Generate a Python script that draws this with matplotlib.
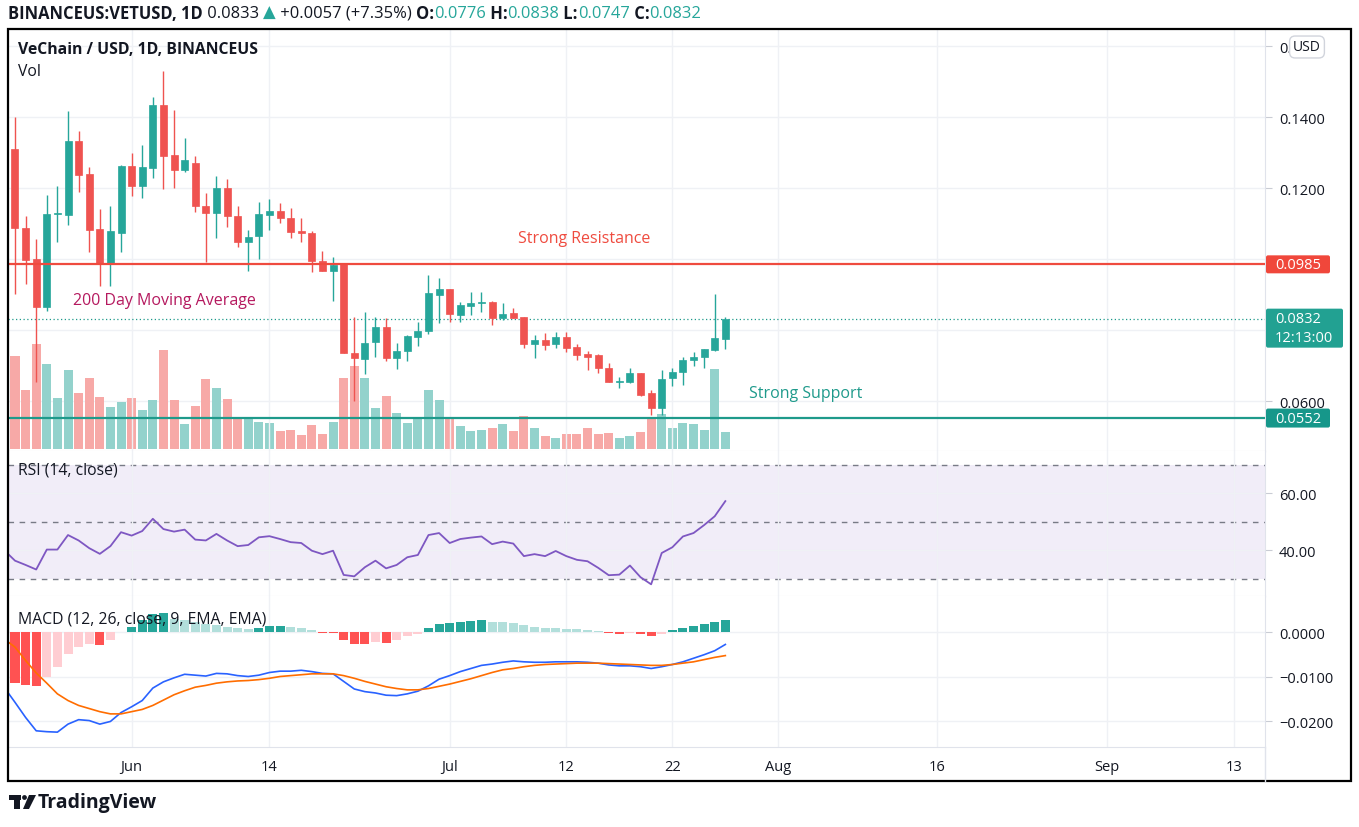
import numpy as np
import pandas as pd
import matplotlib
matplotlib.use('Agg')
import matplotlib.pyplot as plt
from matplotlib.transforms import IdentityTransform, blended_transform_factory
from matplotlib.patches import Rectangle, Circle, Polygon, FancyBboxPatch
from matplotlib.ticker import FuncFormatter

plt.rcParams['font.family'] = ['Open Sans', 'DejaVu Sans']

# VET/USD daily candles, Binance US, from 2021-05-21
first_day = '2021-05-21'
opens = [0.1310, 0.1087, 0.1000, 0.0865, 0.1127, 0.1124, 0.1332, 0.1239, 0.1084, 0.0989,
         0.1073, 0.1262, 0.1206, 0.1256, 0.1434, 0.1293, 0.1251, 0.1270, 0.1149, 0.1130,
         0.1200, 0.1121, 0.1048, 0.1065, 0.1124, 0.1135, 0.1115, 0.1079, 0.1073, 0.0994,
         0.0966, 0.0986, 0.0735, 0.0718, 0.0766, 0.0808, 0.0721, 0.0741, 0.0780, 0.0797,
         0.0899, 0.0915, 0.0842, 0.0868, 0.0876, 0.0879, 0.0834, 0.0848, 0.0837, 0.0761,
         0.0772, 0.0761, 0.0780, 0.0752, 0.0733, 0.0730, 0.0693, 0.0654, 0.0654, 0.0679,
         0.0623, 0.0580, 0.0665, 0.0682, 0.0716, 0.0724, 0.0744, 0.0776]
highs = [0.1400, 0.1121, 0.1056, 0.1180, 0.1206, 0.1417, 0.1360, 0.1259, 0.1141, 0.1150,
         0.1265, 0.1299, 0.1321, 0.1456, 0.1530, 0.1420, 0.1341, 0.1290, 0.1186, 0.1235,
         0.1225, 0.1149, 0.1082, 0.1160, 0.1169, 0.1158, 0.1144, 0.1115, 0.1079, 0.1023,
         0.1006, 0.0988, 0.0837, 0.0851, 0.0837, 0.0834, 0.0763, 0.0786, 0.0823, 0.0955,
         0.0946, 0.0915, 0.0879, 0.0907, 0.0907, 0.0882, 0.0876, 0.0862, 0.0837, 0.0786,
         0.0792, 0.0794, 0.0794, 0.0761, 0.0741, 0.0733, 0.0707, 0.0668, 0.0693, 0.0679,
         0.0631, 0.0687, 0.0693, 0.0724, 0.0738, 0.0746, 0.0901, 0.0838]
lows = [0.0901, 0.0930, 0.0654, 0.0853, 0.1048, 0.1096, 0.1189, 0.1020, 0.0924, 0.0924,
        0.1020, 0.1178, 0.1172, 0.1228, 0.1197, 0.1200, 0.1245, 0.1132, 0.0992, 0.1059,
        0.1090, 0.1034, 0.0966, 0.1000, 0.1082, 0.1101, 0.1059, 0.1048, 0.0963, 0.0966,
        0.0882, 0.0735, 0.0600, 0.0676, 0.0724, 0.0713, 0.0690, 0.0713, 0.0755, 0.0789,
        0.0820, 0.0823, 0.0823, 0.0842, 0.0851, 0.0814, 0.0828, 0.0834, 0.0749, 0.0721,
        0.0744, 0.0749, 0.0738, 0.0716, 0.0687, 0.0679, 0.0654, 0.0637, 0.0651, 0.0614,
        0.0561, 0.0561, 0.0642, 0.0645, 0.0699, 0.0693, 0.0741, 0.0747]
closes = [0.1087, 0.0997, 0.0865, 0.1127, 0.1130, 0.1332, 0.1237, 0.1082, 0.0989, 0.1079,
          0.1262, 0.1206, 0.1259, 0.1434, 0.1290, 0.1251, 0.1279, 0.1149, 0.1130, 0.1200,
          0.1121, 0.1048, 0.1062, 0.1127, 0.1135, 0.1115, 0.1076, 0.1073, 0.0994, 0.0966,
          0.0983, 0.0735, 0.0721, 0.0763, 0.0808, 0.0721, 0.0741, 0.0783, 0.0797, 0.0904,
          0.0915, 0.0845, 0.0870, 0.0876, 0.0879, 0.0834, 0.0845, 0.0834, 0.0761, 0.0772,
          0.0758, 0.0780, 0.0749, 0.0730, 0.0724, 0.0693, 0.0654, 0.0656, 0.0679, 0.0617,
          0.0580, 0.0662, 0.0682, 0.0716, 0.0724, 0.0746, 0.0777, 0.0832]
# volume, relative units
volume = [93, 59, 105, 85, 51, 79, 56, 71, 52, 42, 47, 51, 39, 49, 99, 49, 25,
          43, 70, 61, 50, 30, 32, 27, 26, 18, 19, 14, 24, 15, 27, 71, 83, 71,
          41, 53, 36, 26, 32, 59, 49, 32, 23, 18, 19, 21, 25, 18, 33, 21, 13,
          11, 15, 15, 21, 15, 16, 11, 13, 17, 32, 35, 21, 26, 25, 19, 80, 17]

# indicator lines start one day earlier (2021-05-20)
rsi = [40.0, 36.4, 34.9, 33.3, 40.3, 40.3, 45.4, 43.5, 40.8, 38.8, 41.5,
       46.4, 45.2, 46.8, 51.1, 47.5, 46.6, 47.3, 43.8, 43.5, 45.8,
       43.5, 41.5, 41.9, 44.6, 45.0, 44.0, 42.9, 42.6, 39.9, 38.7,
       39.9, 31.4, 30.9, 34.1,
       36.4, 33.7, 34.9, 37.6, 38.4, 45.4, 46.1, 42.6, 44.0, 44.5,
       44.9, 42.2, 43.1, 42.4, 38.0, 38.7, 38.0, 39.8, 38.0, 36.7,
       36.2, 33.9, 31.3, 31.5, 34.7, 30.6, 28.1, 39.1, 41.1, 44.9,
       46.1, 48.9, 52.0, 57.3]
macd = [-0.0125, -0.0158, -0.0192, -0.0222, -0.0224, -0.0225, -0.0207, -0.0197, -0.0199, -0.0207, -0.0201,
        -0.0181, -0.0168, -0.0154, -0.0126, -0.0112, -0.0103, -0.0095, -0.0097, -0.0099, -0.0093,
        -0.0094, -0.0098, -0.0100, -0.0097, -0.0091, -0.0088, -0.0088, -0.0086, -0.0089, -0.0093,
        -0.0094, -0.0111, -0.0128, -0.0134,
        -0.0137, -0.0142, -0.0143, -0.0139, -0.0133, -0.0121, -0.0106, -0.0098, -0.0089, -0.0082,
        -0.0075, -0.0072, -0.0068, -0.0065, -0.0067, -0.0068, -0.0068, -0.0067, -0.0067, -0.0067,
        -0.0068, -0.0070, -0.0074, -0.0076, -0.0076, -0.0078, -0.0082, -0.0078, -0.0073, -0.0067,
        -0.0059, -0.0051, -0.0042, -0.0028]
signal = [-0.0016, -0.0034, -0.0064, -0.0092, -0.0115, -0.0139, -0.0154, -0.0165, -0.0172, -0.0179, -0.0184,
          -0.0184, -0.0179, -0.0174, -0.0165, -0.0153, -0.0141, -0.0132, -0.0124, -0.0120, -0.0115,
          -0.0112, -0.0110, -0.0109, -0.0107, -0.0104, -0.0100, -0.0098, -0.0096, -0.0094, -0.0094,
          -0.0094, -0.0098, -0.0104, -0.0111,
          -0.0117, -0.0123, -0.0127, -0.0130, -0.0130, -0.0127, -0.0122, -0.0117, -0.0111, -0.0105,
          -0.0098, -0.0091, -0.0085, -0.0082, -0.0078, -0.0075, -0.0073, -0.0072, -0.0071, -0.0070,
          -0.0070, -0.0070, -0.0071, -0.0072, -0.0073, -0.0074, -0.0075, -0.0075, -0.0073, -0.0070,
          -0.0067, -0.0062, -0.0057, -0.0053]
hist = [-0.0115, -0.0118, -0.0121, -0.0100, -0.0079, -0.0049, -0.0033, -0.0028, -0.0030, -0.0019,
        0.0001, 0.0012, 0.0027, 0.0041, 0.0042, 0.0029, 0.0026, 0.0022, 0.0019, 0.0016,
        0.0012, 0.0010, 0.0006, 0.0010, 0.0013, 0.0014, 0.0011, 0.0010, 0.0004, -0.0002,
        -0.0003, -0.0018, -0.0027, -0.0028, -0.0023, -0.0024, -0.0017, -0.0010, -0.0005, 0.0009,
        0.0018, 0.0020, 0.0022, 0.0025, 0.0027, 0.0023, 0.0022, 0.0020, 0.0016, 0.0012,
        0.0010, 0.0009, 0.0007, 0.0006, 0.0004, 0.0002, -0.0002, -0.0005, -0.0002, -0.0005,
        -0.0009, -0.0005, 0.0005, 0.0010, 0.0013, 0.0018, 0.0022, 0.0027]

tick_dates = ['2021-06-01', '2021-06-14', '2021-07-01', '2021-07-12', '2021-07-22',
              '2021-08-01', '2021-08-16', '2021-09-01', '2021-09-13']
tick_labels = ['Jun', '14', 'Jul', '12', '22', 'Aug', '16', 'Sep', '13']
price_ticks = [0.06, 0.08, 0.10, 0.12, 0.14, 0.16]
hidden_price_ticks = [0.08]  # covered by the last-price label
rsi_ticks = [40, 60]
macd_ticks = [-0.02, -0.01, 0.0]
resistance = 0.0985
support = 0.0552

RED = '#ef5350'
GREEN = '#26a69a'
LINE_RED = '#ef4b3f'
LINE_TEAL = '#1e9a8b'
TXT = '#131722'
GRID = '#eff1f5'
SEP = '#e0e3eb'

W, H = 1359, 828
fig = plt.figure(figsize=(W / 100, H / 100), dpi=100)
fig.patch.set_facecolor('white')


def box(left, top, right, bottom):
    return [left / W, 1 - bottom / H, (right - left) / W, (bottom - top) / H]


def ftext(x, y, s, **kw):
    return fig.text(x, H - y, s, transform=IdentityTransform(), **kw)


opens, highs, lows, closes = map(np.array, (opens, highs, lows, closes))
volume, rsi, macd, signal, hist = map(np.array, (volume, rsi, macd, signal, hist))
days = np.arange(len(closes))
line_days = np.arange(-1, len(closes))
t0 = pd.Timestamp(first_day)
tick_pos = [(pd.Timestamp(d) - t0).days for d in tick_dates]
xlim = (-0.66, 117.9)

ax_vol = fig.add_axes(box(8, 30, 1265, 452))
ax = fig.add_axes(box(8, 30, 1265, 452))
ax_rsi = fig.add_axes(box(8, 452, 1265, 597))
ax_macd = fig.add_axes(box(8, 597, 1265, 748))

for a in (ax_vol, ax, ax_rsi, ax_macd):
    a.set_xlim(*xlim)
    for s in ('left', 'top'):
        a.spines[s].set_visible(False)
    for s in ('right', 'bottom'):
        a.spines[s].set_color(SEP)
ax.set_facecolor('none')
ax_vol.spines['right'].set_visible(False)
ax_vol.spines['bottom'].set_visible(False)

# --- price panel ---
ax.set_ylim(0.04592, 0.16479)
ax_vol.set_ylim(-2, 420)

ax_vol.set_xticks(tick_pos)
ax_vol.grid(axis='x', color=GRID, lw=1)
ax_vol.tick_params(length=0, labelbottom=False, labelleft=False)
ax_vol.set_yticks([])
htr = blended_transform_factory(ax_vol.transAxes, ax.transData)
for p in price_ticks:
    ax_vol.plot([0, 1], [p, p], transform=htr, color=GRID, lw=1, zorder=0.5)

up = closes >= opens
ax_vol.bar(days, volume, width=0.85, color=np.where(up, '#93d2cc', '#f7a9a7'), zorder=1)

cols = np.where(up, GREEN, RED)
ax.vlines(days, lows, highs, colors=cols, lw=1, zorder=3)
ax.bar(days, np.abs(closes - opens), bottom=np.minimum(opens, closes), width=0.66,
       color=cols, edgecolor=cols, linewidth=0.5, zorder=4)

ax.axhline(resistance, color=LINE_RED, lw=1.6, zorder=5)
ax.axhline(support, color=LINE_TEAL, lw=1.6, zorder=5)
ax.axhline(closes[-1], color=LINE_TEAL, lw=0.9, ls=(0, (1, 2)), zorder=2)

ax.text(53.7, 0.1058, 'Strong Resistance', color=LINE_RED, ha='center', va='center', fontsize=11.5)
ax.text(14.1, 0.0884, '200 Day Moving Average', color='#b5195f', ha='center', va='center', fontsize=11.5)
ax.text(74.6, 0.0622, 'Strong Support', color=LINE_TEAL, ha='center', va='center', fontsize=11.5)

ax.set_xticks([])
ax.yaxis.tick_right()
ax.set_yticks(price_ticks)
ax.yaxis.set_major_formatter(FuncFormatter(
    lambda v, p: '' if any(abs(v - h) < 1e-9 for h in hidden_price_ticks) else f'{v:.4f}'))
ax.tick_params(axis='y', length=5, pad=5, color='#c9ccd4', labelsize=10.5, labelcolor=TXT)

# --- RSI panel ---
ax_rsi.set_ylim(24.0, 74.9)
ax_rsi.axhspan(30, 70, color='#7e57c2', alpha=0.1, lw=0, zorder=0)
for lvl in (70, 50, 30):
    ax_rsi.axhline(lvl, color='#787b86', lw=1, ls=(0, (4, 4)), zorder=1)
ax_rsi.plot(line_days, rsi, color='#7e57c2', lw=1.3, zorder=3)
ax_rsi.set_xticks(tick_pos)
ax_rsi.yaxis.tick_right()
ax_rsi.set_yticks(rsi_ticks)
ax_rsi.yaxis.set_major_formatter(FuncFormatter(lambda v, p: f'{v:.2f}'))
ax_rsi.grid(color=GRID, lw=1, zorder=0)
ax_rsi.tick_params(axis='x', length=0, labelbottom=False)
ax_rsi.tick_params(axis='y', length=5, pad=5, color='#c9ccd4', labelsize=10.5, labelcolor=TXT)

# --- MACD panel ---
ax_macd.set_ylim(-0.02584, 0.00809)
prev = np.concatenate([[0.0], hist[:-1]])
rising = hist > prev
hcol = np.where(hist >= 0, np.where(rising, '#26a69a', '#b2dfdb'),
                np.where(rising, '#ffcdd2', '#ff5252'))
ax_macd.bar(days, hist, width=0.85, color=hcol, zorder=2)
ax_macd.plot(line_days, macd, color='#2962ff', lw=1.2, zorder=3)
ax_macd.plot(line_days, signal, color='#ff6d00', lw=1.2, zorder=3)
ax_macd.set_xticks(tick_pos, tick_labels)
ax_macd.yaxis.tick_right()
ax_macd.set_yticks(macd_ticks)
ax_macd.yaxis.set_major_formatter(FuncFormatter(lambda v, p: f'{v:.4f}'.replace('-', '\u2212')))
ax_macd.grid(color=GRID, lw=1, zorder=0)
ax_macd.tick_params(axis='x', length=0, pad=9, labelsize=10.5, labelcolor=TXT)
ax_macd.tick_params(axis='y', length=5, pad=5, color='#c9ccd4', labelsize=10.5, labelcolor=TXT)


# --- price scale labels ---
def scale_label(level, lines, color, width, height, first_center=True):
    x0 = ax.transAxes.transform((1, 0))[0] + 1
    yc = ax.transData.transform((0, level))[1]
    top = yc + 10 if not first_center else yc + height / 2
    fig.add_artist(FancyBboxPatch((x0, top - height), width, height,
                                  boxstyle='round,pad=0,rounding_size=2',
                                  transform=IdentityTransform(), fc=color, ec='none'))
    for k, s in enumerate(lines):
        fig.text(x0 + 9, top - height / (2 * len(lines)) * (2 * k + 1), s, color='white',
                 fontsize=10.5, va='center', ha='left', transform=IdentityTransform())


scale_label(resistance, ['0.0985'], '#f0473b', 64, 18)
scale_label(closes[-1], ['0.0832', '12:13:00'], '#22a192', 77, 39, first_center=False)
scale_label(support, ['0.0552'], '#16978a', 64, 19)

ftext(1307, 48, 'USD', fontsize=10, color=TXT, ha='center', va='center',
      bbox=dict(boxstyle='round,pad=0.25,rounding_size=0.4', fc='white', ec='#d1d4dc', lw=1))

# --- frame and separators ---
fig.add_artist(Rectangle((8, H - 782), 1343, 752, transform=IdentityTransform(),
                         fill=False, ec='black', lw=1.6))
fig.add_artist(plt.Line2D([1265, 1265], [H - 782, H - 748], transform=IdentityTransform(),
                          color=SEP, lw=1))

# --- legends / header ---
ftext(18, 50, 'VeChain / USD, 1D, BINANCEUS', fontsize=11.3, fontweight='bold', color=TXT, va='center')
ftext(18, 72, 'Vol', fontsize=11.3, color=TXT, va='center')
ftext(18, 471, 'RSI (14, close)', fontsize=11.3, color=TXT, va='center')
ftext(18, 620, 'MACD (12, 26, close, 9, EMA, EMA)', fontsize=11.3, color=TXT, va='center')

header = [('BINANCEUS:VETUSD, 1D', TXT, 'bold'), (' 0.0833 ', TXT, 'normal'),
          ('\u25b2', GREEN, 'normal'), (' +0.0057 (+7.35%) ', TXT, 'normal'),
          ('O:', TXT, 'bold'), ('0.0776', GREEN, 'normal'), (' H:', TXT, 'bold'),
          ('0.0838', GREEN, 'normal'), (' L:', TXT, 'bold'), ('0.0747', GREEN, 'normal'),
          (' C:', TXT, 'bold'), ('0.0832', GREEN, 'normal')]
renderer = fig.canvas.get_renderer()
hx = 8
for s, c, wgt in header:
    t = ftext(hx, 14, s, fontsize=11.9, color=c, fontweight=wgt, va='center')
    hx = t.get_window_extent(renderer).x1

# TradingView logo
fig.add_artist(Rectangle((9, H - 801), 12, 5, transform=IdentityTransform(), fc='#131722', ec='none'))
fig.add_artist(Rectangle((14, H - 810), 6, 14, transform=IdentityTransform(), fc='#131722', ec='none'))
fig.add_artist(Circle((24.5, H - 798.5), 2.4, transform=IdentityTransform(), fc='#131722', ec='none'))
fig.add_artist(Polygon([(29, H - 796), (36, H - 796), (29, H - 810), (23, H - 810)],
                       transform=IdentityTransform(), fc='#131722', ec='none'))
ftext(38, 803, 'TradingView', fontsize=14, fontweight='bold', color='#131722', va='center')

fig.savefig('out.png', dpi=100, facecolor='white')
